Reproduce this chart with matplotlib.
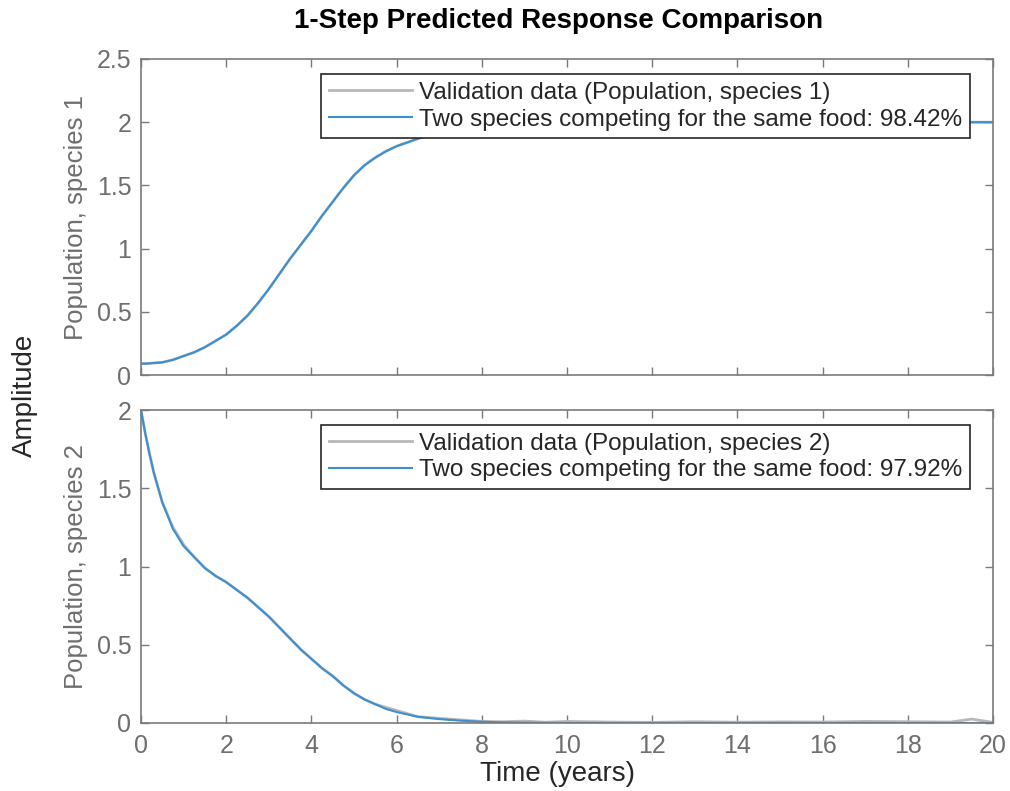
import numpy as np
import matplotlib
matplotlib.use("Agg")
from matplotlib import pyplot as plt

plt.rcParams['font.family'] = ['Liberation Sans', 'DejaVu Sans']

# time axis (years)
time = [0, 0.1, 0.2, 0.3, 0.5, 0.75, 1, 1.25, 1.5, 1.75, 2, 2.25, 2.5, 2.75, 3, 3.25,
        3.5, 3.75, 4, 4.25, 4.5, 4.75, 5, 5.25, 5.5, 5.75, 6, 6.5, 7, 7.5, 8, 8.5,
        9, 9.5, 10, 11, 12, 13, 14, 15, 16, 17, 18, 19, 19.5, 20]

# species 1
val_sp1 = [0.09, 0.09, 0.092, 0.095, 0.10, 0.12, 0.15, 0.18, 0.22, 0.27, 0.32, 0.39,
           0.47, 0.57, 0.68, 0.80, 0.92, 1.03, 1.14, 1.26, 1.37, 1.48, 1.58, 1.66,
           1.72, 1.77, 1.81, 1.87, 1.92, 1.955, 1.975, 1.988, 1.995, 1.998, 2.0,
           2.0, 2.0, 2.0, 2.0, 2.0, 2.0, 2.0, 2.0, 2.0, 2.0, 2.0]
mod_sp1 = [0.09, 0.09, 0.092, 0.095, 0.10, 0.12, 0.15, 0.18, 0.22, 0.27, 0.32, 0.39,
           0.47, 0.57, 0.68, 0.80, 0.92, 1.03, 1.14, 1.26, 1.37, 1.48, 1.58, 1.66,
           1.72, 1.77, 1.81, 1.87, 1.92, 1.955, 1.975, 1.988, 1.995, 1.998, 2.0,
           2.0, 2.0, 2.0, 2.0, 2.0, 2.0, 2.0, 2.0, 2.0, 2.0, 2.0]

# species 2
val_sp2 = [2.0, 1.85, 1.72, 1.60, 1.41, 1.25, 1.14, 1.06, 0.99, 0.94, 0.90, 0.85,
           0.80, 0.74, 0.68, 0.61, 0.54, 0.47, 0.41, 0.35, 0.30, 0.24, 0.19, 0.15,
           0.12, 0.10, 0.08, 0.04, 0.03, 0.02, 0.01, 0.008, 0.012, 0.005, 0.01,
           0.006, 0.004, 0.008, 0.005, 0.007, 0.006, 0.01, 0.008, 0.006, 0.025, 0.004]
mod_sp2 = [2.0, 1.85, 1.72, 1.60, 1.41, 1.24, 1.13, 1.06, 0.99, 0.94, 0.90, 0.85,
           0.80, 0.74, 0.68, 0.61, 0.54, 0.47, 0.41, 0.35, 0.30, 0.24, 0.19, 0.15,
           0.12, 0.09, 0.07, 0.04, 0.025, 0.015, 0.008, 0.004, 0.002, 0.001, 0.0,
           0.0, 0.0, 0.0, 0.0, 0.0, 0.0, 0.0, 0.0, 0.0, 0.0, 0.0]

fits = [98.42, 97.92]
ylabels = ['Population, species 1', 'Population, species 2']
ylims = [(0, 2.5), (0, 2)]
yticks = [[0, 0.5, 1, 1.5, 2, 2.5], [0, 0.5, 1, 1.5, 2]]
xticks = [0, 2, 4, 6, 8, 10, 12, 14, 16, 18, 20]

GRAY = '#b8b8b8'
BLUE = '#3b8fd3'
TICK_COLOR = '#6e6e6e'
SPINE_COLOR = '#7a7a7a'

fig = plt.figure(figsize=(10.1, 7.91), dpi=100)
W, H = 1010, 791
positions = [(141, 59, 993, 375), (141, 410, 993, 723)]

validation = [val_sp1, val_sp2]
model = [mod_sp1, mod_sp2]

for i in range(2):
    x0, y0, x1, y1 = positions[i]
    ax = fig.add_axes([x0 / W, 1 - y1 / H, (x1 - x0) / W, (y1 - y0) / H])
    ax.plot(time, validation[i], color=GRAY, lw=2.0,
            label='Validation data (Population, species {0})'.format(i + 1))
    ax.plot(time, model[i], color=BLUE, lw=1.5,
            label='Two species competing for the same food: {0:.2f}%'.format(fits[i]))
    ax.set_xlim(0, 20)
    ax.set_ylim(*ylims[i])
    ax.set_xticks(xticks)
    ax.set_yticks(yticks[i])
    ax.set_yticklabels(['{0:g}'.format(v) for v in yticks[i]])
    ax.tick_params(direction='in', length=6, width=1, color=SPINE_COLOR,
                   labelcolor=TICK_COLOR, labelsize=18, top=True, right=True)
    ax.tick_params(axis='y', pad=7)
    ax.tick_params(axis='x', pad=8)
    if i == 0:
        ax.tick_params(labelbottom=False)
    for sp in ax.spines.values():
        sp.set_color(SPINE_COLOR)
        sp.set_linewidth(1.2)
    ax.set_ylabel(ylabels[i], fontsize=18.5, color=TICK_COLOR, labelpad=6)
    leg = ax.legend(loc='upper right', bbox_to_anchor=(0.973, 0.953), fontsize=17.5,
                    frameon=True, fancybox=False, borderpad=0.32, labelspacing=0.2,
                    handlelength=3.4, handletextpad=0.3, borderaxespad=0)
    leg.get_frame().set_edgecolor('#262626')
    leg.get_frame().set_linewidth(1.2)
    leg.get_frame().set_alpha(1)
    for t in leg.get_texts():
        t.set_color('#262626')

fig.text(559 / W, 1 - 21 / H, '1-Step Predicted Response Comparison',
         ha='center', va='center', fontsize=20, fontweight='bold')
fig.text(25 / W, 1 - 395 / H, 'Amplitude', rotation=90, ha='center', va='center',
         fontsize=20, color='#262626')
fig.text(557 / W, 1 - 774 / H, 'Time (years)', ha='center', va='center',
         fontsize=20, color='#262626')

fig.savefig('out.png', dpi=100)
